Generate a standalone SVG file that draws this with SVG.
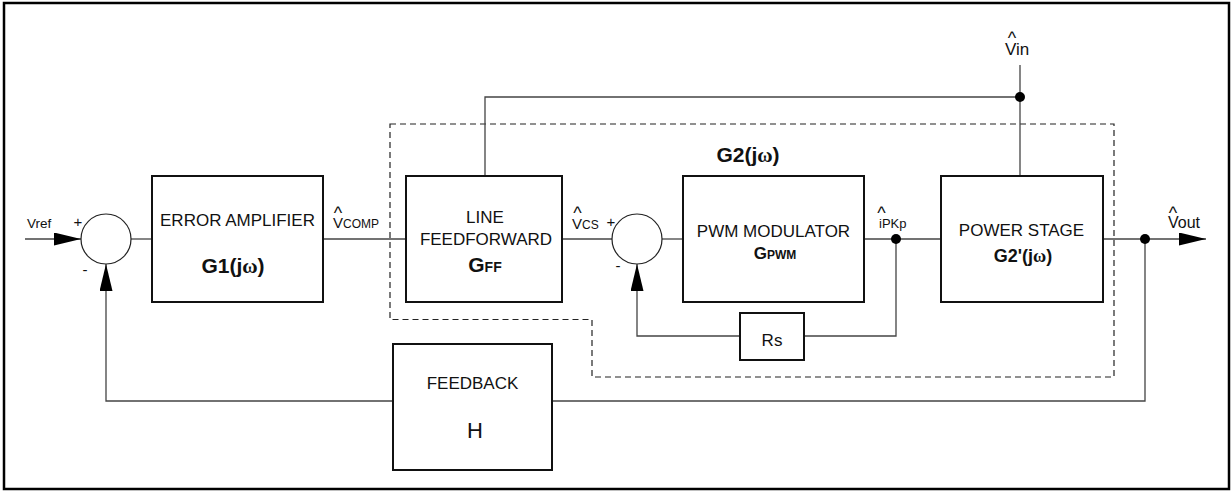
<svg xmlns="http://www.w3.org/2000/svg" width="1231" height="491" viewBox="0 0 1231 491">
<style>
text{font-family:"Liberation Sans",Arial,sans-serif;fill:#111}
.box{fill:#fff;stroke:#111;stroke-width:2}
.sum{fill:#fff;stroke:#222;stroke-width:1.2}
.lbl{font-size:17px;text-anchor:middle}
.b{font-weight:bold;text-anchor:middle}
.w{font-family:"Liberation Serif","DejaVu Serif",serif}
.wire{fill:none;stroke:#444;stroke-width:1.3}
.dash{fill:none;stroke:#222;stroke-width:1.2;stroke-dasharray:6 4}
.hat{font-size:18px;text-anchor:middle}
</style>
<defs>
<marker id="arr" viewBox="0 0 27 13" refX="27" refY="6.5" markerWidth="27" markerHeight="13" markerUnits="userSpaceOnUse" orient="auto">
<path d="M0,0 L27,6.5 L0,13 Z" fill="#000"/>
</marker>
</defs>
<rect x="4" y="3" width="1225" height="486" fill="#fff" stroke="#000" stroke-width="2.5"/>
<path class="dash" d="M390,124 H1114 V377 H592 V319.5 H390 Z"/>
<text class="b" x="748" y="162" font-size="21">G2(j<tspan class="w">ω</tspan>)</text>
<g id="connectors">
<path class="wire" d="M25,239 H81" marker-end="url(#arr)"/>
<path class="wire" d="M131,239 H152"/>
<path class="wire" d="M323,239 H406"/>
<path class="wire" d="M562,239 H612"/>
<path class="wire" d="M662,239 H683"/>
<path class="wire" d="M864,239 H941"/>
<path class="wire" d="M1103,239 H1206" marker-end="url(#arr)"/>
<path class="wire" d="M1145,239 V401 H552"/>
<path class="wire" d="M393,401 H106 V264" marker-end="url(#arr)"/>
<path class="wire" d="M896,239 V336 H804"/>
<path class="wire" d="M740,336 H637 V264" marker-end="url(#arr)"/>
<path class="wire" d="M1020,65 V176"/>
<path class="wire" d="M1020,97 H485 V176"/>
<circle cx="1020" cy="97" r="5" fill="#000"/>
<circle cx="896" cy="239" r="5" fill="#000"/>
<circle cx="1145" cy="239" r="5" fill="#000"/>
</g>
<g id="sum1">
<circle class="sum" cx="106" cy="239" r="25"/>
<text x="78" y="227" font-size="15" text-anchor="middle">+</text>
<text x="85" y="275" font-size="15" text-anchor="middle">-</text>
</g>
<g id="sum2">
<circle class="sum" cx="637" cy="239" r="25"/>
<text x="611" y="227" font-size="15" text-anchor="middle">+</text>
<text x="618" y="271" font-size="15" text-anchor="middle">-</text>
</g>
<g id="vref"><text x="27" y="228" font-size="13.5">Vref</text></g>
<g id="error-amplifier">
<rect class="box" x="152" y="176" width="171" height="126"/>
<text class="lbl" x="237.5" y="226">ERROR AMPLIFIER</text>
<text class="b" x="233" y="273" font-size="21">G1(j<tspan class="w">ω</tspan>)</text>
</g>
<g id="vcomp">
<text class="hat" x="338" y="219">^</text>
<text x="333" y="228"><tspan font-size="15">V</tspan><tspan font-size="12">COMP</tspan></text>
</g>
<g id="line-feedforward">
<rect class="box" x="406" y="176" width="156" height="126"/>
<text class="lbl" x="485" y="223">LINE</text>
<text class="lbl" x="486" y="245">FEEDFORWARD</text>
<text class="b" x="485" y="272"><tspan font-size="21">G</tspan><tspan font-size="14">FF</tspan></text>
</g>
<g id="vcs">
<text class="hat" x="577.5" y="219">^</text>
<text x="572" y="229"><tspan font-size="15">V</tspan><tspan font-size="12">CS</tspan></text>
</g>
<g id="pwm-modulator">
<rect class="box" x="683" y="176" width="181" height="126"/>
<text class="lbl" x="773.5" y="237">PWM MODULATOR</text>
<text class="b" x="775" y="259"><tspan font-size="17">G</tspan><tspan font-size="12">PWM</tspan></text>
</g>
<g id="ipkp">
<text class="hat" x="881.5" y="219">^</text>
<text x="879" y="228" font-size="13">iPKp</text>
</g>
<g id="power-stage">
<rect class="box" x="941" y="176" width="162" height="126"/>
<text class="lbl" x="1021.5" y="236">POWER STAGE</text>
<text class="b" x="1023" y="262" font-size="18">G2'(j<tspan class="w">ω</tspan>)</text>
</g>
<g id="vin">
<text class="hat" x="1012" y="44">^</text>
<text x="1005" y="55" font-size="17">Vin</text>
</g>
<g id="vout">
<text class="hat" x="1173" y="219">^</text>
<text x="1168" y="228" font-size="16">Vout</text>
</g>
<g id="rs">
<rect class="box" x="740" y="313" width="64" height="47"/>
<text class="lbl" x="772" y="346">Rs</text>
</g>
<g id="feedback">
<rect class="box" x="393" y="344" width="159" height="126"/>
<text class="lbl" x="472.5" y="389">FEEDBACK</text>
<text x="475" y="438" font-size="22" text-anchor="middle">H</text>
</g>
</svg>
